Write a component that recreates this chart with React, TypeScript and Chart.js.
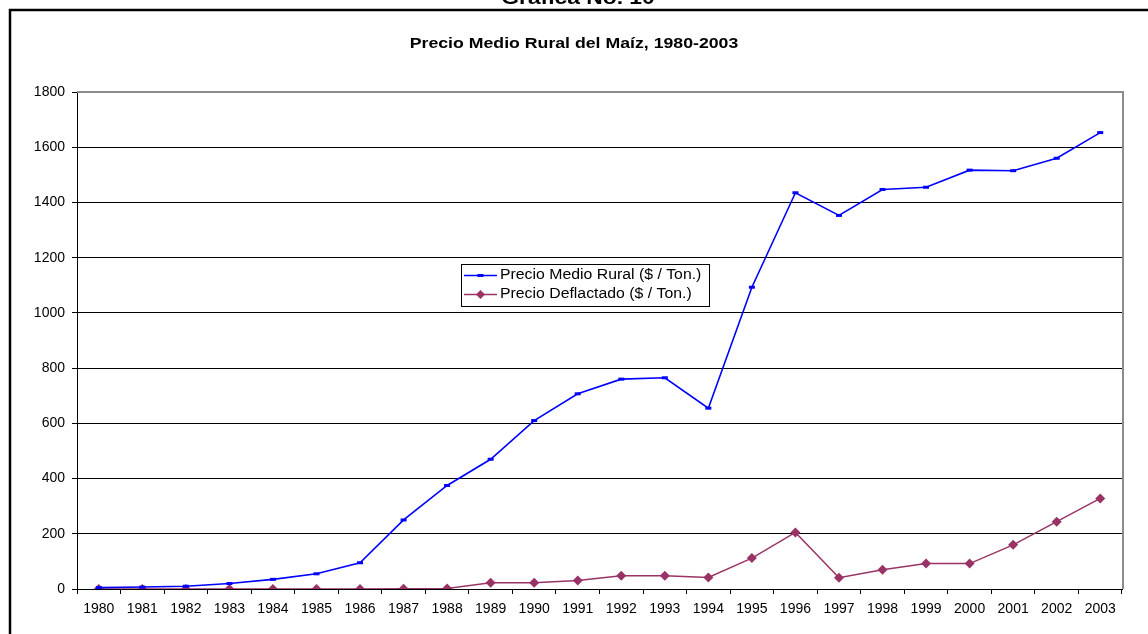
import React, { useEffect, useRef } from "react";
import { Chart, registerables } from "chart.js";

Chart.register(...registerables);

const figureTitle = "Gráfica No. 10";
const chartTitle = "Precio Medio Rural del Maíz, 1980-2003";
const years = [
  "1980", "1981", "1982", "1983", "1984", "1985", "1986", "1987", "1988", "1989", "1990", "1991",
  "1992", "1993", "1994", "1995", "1996", "1997", "1998", "1999", "2000", "2001", "2002", "2003",
];
const precioMedioRural = [
  5, 7, 10, 20, 35, 55, 95, 250, 375, 470, 610, 707,
  760, 765, 655, 1093, 1435, 1353, 1447, 1455, 1517, 1515, 1560, 1653,
];
const precioDeflactado = [
  0, 0, 0, 0, 0, 0, 0, 1, 2, 23, 23, 31,
  48, 48, 42, 112, 205, 41, 70, 92, 92, 160, 244, 328,
];
const seriesLabels = ["Precio Medio Rural ($ / Ton.)", "Precio Deflactado ($ / Ton.)"];
const yMin = 0;
const yMax = 1800;
const yStep = 200;

const FONT = "'Liberation Sans', Arial, sans-serif";

function drawText(
  ctx: CanvasRenderingContext2D,
  text: string,
  x: number,
  y: number,
  font: string,
  sx: number,
  align: CanvasTextAlign,
  baseline: CanvasTextBaseline
) {
  ctx.save();
  ctx.font = font;
  ctx.fillStyle = "#000";
  ctx.textAlign = align;
  ctx.textBaseline = baseline;
  ctx.translate(x, y);
  ctx.scale(sx, 1);
  ctx.fillText(text, 0, 0);
  ctx.restore();
}

const decorPlugin = {
  id: "decor",
  beforeDraw(chart: any) {
    const ctx = chart.ctx as CanvasRenderingContext2D;
    ctx.save();
    ctx.fillStyle = "#fff";
    ctx.fillRect(0, 0, chart.width, chart.height);
    ctx.restore();
  },
  afterDraw(chart: any) {
    const ctx = chart.ctx as CanvasRenderingContext2D;
    const ca = chart.chartArea;
    ctx.save();
    ctx.strokeStyle = "#8c8c8c";
    ctx.lineWidth = 2;
    ctx.beginPath();
    ctx.moveTo(ca.left, ca.top);
    ctx.lineTo(ca.right + 1, ca.top);
    ctx.lineTo(ca.right + 1, ca.bottom);
    ctx.stroke();
    ctx.strokeStyle = "#000";
    ctx.lineWidth = 2.5;
    ctx.strokeRect(10, 10, chart.width + 20, chart.height + 20);
    ctx.restore();

    const cx = chart.width / 2;
    drawText(ctx, figureTitle, cx + 4, 4, `bold 19px ${FONT}`, 1.2, "center", "alphabetic");
    drawText(ctx, chartTitle, cx, 44, `bold 15px ${FONT}`, 1.18, "center", "middle");

    const lx = 461, ly = 264, lw = 248, lh = 42;
    ctx.save();
    ctx.fillStyle = "#fff";
    ctx.fillRect(lx, ly, lw, lh);
    ctx.strokeStyle = "#000";
    ctx.lineWidth = 1;
    ctx.strokeRect(lx + 0.5, ly + 0.5, lw, lh);
    const ds = chart.data.datasets;
    const rows = [275.5, 294.5];
    ds.forEach((d: any, i: number) => {
      const y = rows[i];
      ctx.strokeStyle = d.borderColor;
      ctx.lineWidth = 1.5;
      ctx.beginPath();
      ctx.moveTo(464, y);
      ctx.lineTo(497, y);
      ctx.stroke();
      ctx.fillStyle = d.pointBackgroundColor;
      if (d.pointStyle === "rectRot") {
        ctx.beginPath();
        ctx.moveTo(480.5, y - 4.5);
        ctx.lineTo(485, y);
        ctx.lineTo(480.5, y + 4.5);
        ctx.lineTo(476, y);
        ctx.closePath();
        ctx.fill();
      } else {
        ctx.fillRect(477.5, y - 1.5, 6, 3);
      }
      drawText(ctx, d.label, 500, y, `14px ${FONT}`, 1.13, "left", "middle");
    });
    ctx.restore();
  },
};

export default function App() {
  const ref = useRef<HTMLCanvasElement | null>(null);
  useEffect(() => {
    if (!ref.current) return;
    const chart = new Chart(ref.current, {
      type: "line",
      data: {
        labels: years,
        datasets: [
          {
            label: seriesLabels[0],
            data: precioMedioRural,
            borderColor: "#0000ff",
            backgroundColor: "#0000ff",
            pointBackgroundColor: "#0000ff",
            pointBorderColor: "#0000ff",
            borderWidth: 1.6,
            pointStyle: "line",
            pointRadius: 3,
            pointBorderWidth: 3,
            tension: 0,
          },
          {
            label: seriesLabels[1],
            data: precioDeflactado,
            borderColor: "#993366",
            backgroundColor: "#993366",
            pointBackgroundColor: "#993366",
            pointBorderColor: "#993366",
            borderWidth: 1.5,
            pointStyle: "rectRot",
            pointRadius: 5,
            pointBorderWidth: 0,
            tension: 0,
          },
        ],
      },
      options: {
        responsive: false,
        animation: false,
        events: [],
        layout: { padding: { left: 10, top: 92, right: 26, bottom: 0 } },
        plugins: {
          legend: { display: false },
          title: { display: false },
          tooltip: { enabled: false },
        },
        scales: {
          x: {
            type: "category",
            offset: true,
            afterFit: (s: any) => {
              s.height = 45;
            },
            grid: {
              offset: true,
              drawOnChartArea: false,
              drawTicks: true,
              tickLength: 5,
              color: "#000",
              tickColor: "#000",
            },
            border: { color: "#000", width: 1 },
            ticks: {
              color: "#000",
              font: { family: FONT, size: 14 },
              padding: 7,
              maxRotation: 0,
              autoSkip: false,
            },
          },
          y: {
            min: yMin,
            max: yMax,
            afterFit: (s: any) => {
              s.width = 67;
            },
            grid: {
              color: (c: any) => (c.tick && c.tick.value === yMax ? "#8c8c8c" : "#000"),
              lineWidth: 1,
              drawTicks: true,
              tickLength: 5,
              tickColor: "#000",
            },
            border: { color: "#000", width: 1 },
            ticks: {
              stepSize: yStep,
              color: "#000",
              font: { family: FONT, size: 14 },
              padding: 7,
              callback: (v: any) => String(v),
            },
          },
        },
      },
      plugins: [decorPlugin],
    });
    return () => chart.destroy();
  }, []);
  return (
    <div style={{ position: "absolute", left: 0, top: 0, width: 1148, height: 634 }}>
      <canvas ref={ref} width={1148} height={634} style={{ display: "block" }} />
    </div>
  );
}
